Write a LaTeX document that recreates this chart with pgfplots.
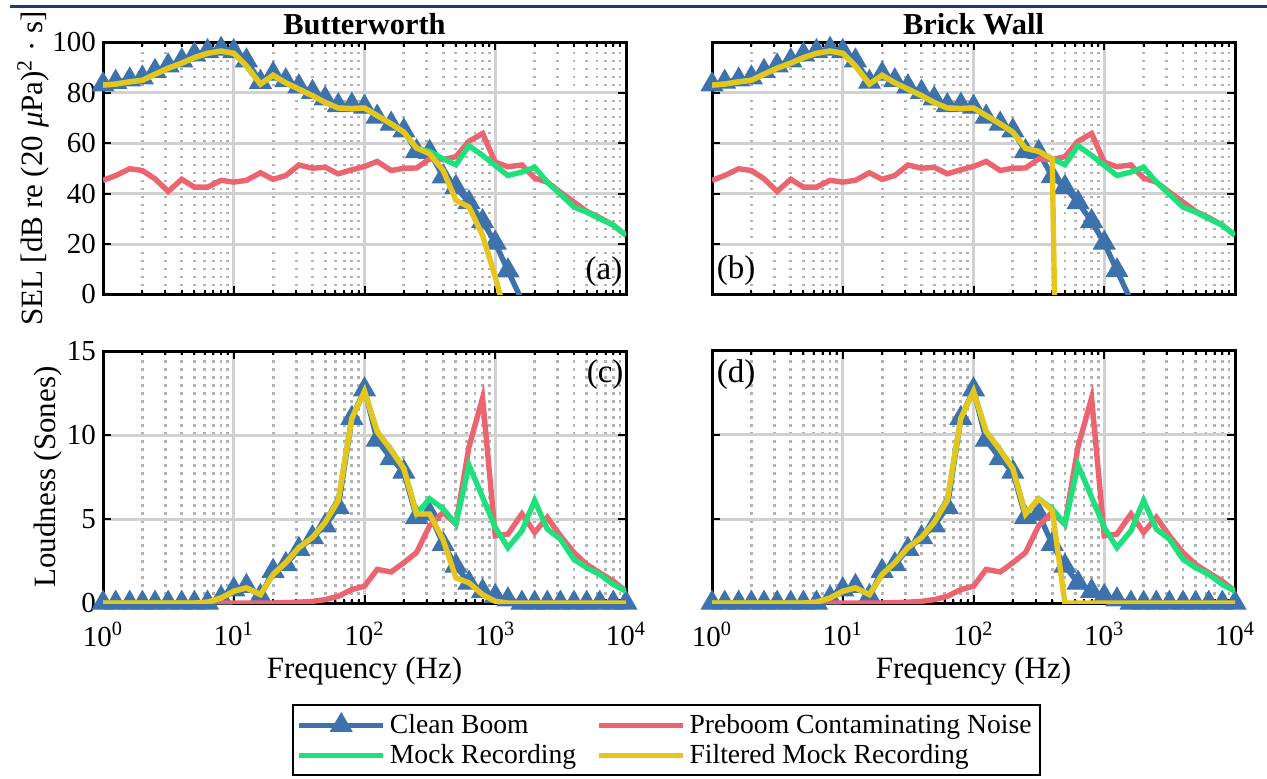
\documentclass[border=0pt]{standalone}
\usepackage{fontspec}
\setmainfont{Liberation Serif}
\usepackage{pgfplots}
\usepackage{pgfplotstable}
\pgfplotsset{compat=1.18}

\definecolor{cBoom}{HTML}{3E72AC}
\definecolor{cNoise}{HTML}{EC6470}
\definecolor{cMock}{HTML}{1EE07C}
\definecolor{cFilt}{HTML}{E6C51C}
\definecolor{navy}{HTML}{1D3C6E}

% Sound exposure level per 1/3-octave band, dB re (20 uPa)^2 s
\pgfplotstableread{
f      clean  noise  mock  filtA  filtB
1      83.3   45.3   83.1  83.1   83.1
1.25   84.3   47.2   83.5  83.5   83.5
1.6    85.2   49.9   84.4  84.4   84.4
2      86.0   49.2   85.0  85.0   85.0
2.5    88.6   45.9   87.4  87.4   87.4
3.15   90.8   40.9   89.8  89.8   89.8
4      92.8   45.7   91.8  91.8   91.8
5      95.2   42.6   94.0  94.0   94.0
6.3    96.5   42.6   95.7  95.7   95.7
8      97.4   45.3   96.6  96.6   96.6
10     96.5   44.6   95.7  95.7   95.7
12.5   92.8   45.3   90.7  90.7   90.7
16     84.3   48.3   83.5  83.5   83.5
20     87.5   45.7   87.0  87.0   87.0
25     84.9   47.2   84.0  84.0   84.0
31.5   82.5   51.4   81.5  81.5   81.5
40     80.3   50.1   78.9  78.9   78.9
50     77.7   50.5   76.2  76.2   76.2
63     75.0   47.9   74.0  74.0   74.0
80     75.2   49.5   73.8  73.8   73.8
100    74.4   50.8   74.0  74.0   74.0
125    70.5   52.8   71.0  71.0   71.0
160    67.7   49.2   67.7  67.7   67.7
200    65.0   50.1   64.4  64.4   64.4
250    56.8   50.2   58.0  58.2   58.0
315    56.5   53.8   56.8  55.8   56.8
400    46.8   53.5   53.8  49.2   53.8
500    42.6   54.7   51.5  37.4   -250
630    36.5   60.8   59.0  34.7   nan
800    29.0   63.9   55.2  23.5   nan
1000   20.5   52.5   51.2  7.0    nan
1250   9.5    50.7   47.2  -12    nan
1600   -2.5   51.4   48.6  nan    nan
2000   nan    46.2   50.5  nan    nan
2500   nan    44.6   44.6  nan    nan
3150   nan    40.6   39.8  nan    nan
4000   nan    36.7   34.7  nan    nan
5000   nan    33.0   32.7  nan    nan
6300   nan    30.5   30.1  nan    nan
8000   nan    27.5   27.5  nan    nan
10000  nan    23.5   23.5  nan    nan
}\seltab

% Loudness per 1/3-octave band, sones
\pgfplotstableread{
f      clean  noise  mock  filtC  filtD
1      0      0      0     0      0
1.25   0      0      0     0      0
1.6    0      0      0     0      0
2      0      0      0     0      0
2.5    0      0      0     0      0
3.15   0      0      0     0      0
4      0      0      0     0      0
5      0      0      0     0      0
6.3    0      0      0.05  0.05   0.05
8      0.3    0      0.3   0.3    0.3
10     0.8    0      0.7   0.7    0.7
12.5   1.0    0      0.9   0.9    0.9
16     0.4    0      0.5   0.5    0.5
20     1.9    0      1.7   1.7    1.7
25     2.3    0.02   2.4   2.4    2.4
31.5   3.2    0.05   3.3   3.3    3.3
40     3.9    0.1    3.9   3.9    3.9
50     4.6    0.2    4.8   4.8    4.8
63     5.7    0.4    6.1   6.1    6.1
80     11.0   0.8    11.0  11.0   11.0
100    12.7   1.0    12.6  12.6   12.6
125    9.7    2.0    10.2  10.2   10.2
160    8.6    1.85   9.1   9.1    9.1
200    7.8    2.4    8.0   8.0    8.0
250    5.1    3.0    5.3   5.3    5.3
315    5.3    4.6    6.2   5.3    6.2
400    3.5    5.4    5.6   3.75   5.5
500    2.2    4.7    4.7   1.5    0
630    1.2    9.3    8.2   1.2    0
800    0.7    12.2   6.3   0.5    0
1000   0.4    4.0    4.5   0.1    0
1250   0.2    4.1    3.3   0      0
1600   0      5.3    4.3   0      0
2000   0      4.2    6.1   0      0
2500   0      5.1    4.4   0      0
3150   0      4.0    3.8   0      0
4000   0      3.0    2.6   0      0
5000   0      2.3    2.1   0      0
6300   0      1.8    1.7   0      0
8000   0      1.3    1.1   0      0
10000  0      0.7    0.7   0      0
}\loudtab

\pgfplotsset{
  sbpanel/.style={
    scale only axis, width=261.5pt, height=126pt,
    xmin=1, xmax=10000,
    clip mode=individual,
    xtick={1,10,100,1000,10000},
    minor xtick={2,3,4,5,6,7,8,9,20,30,40,50,60,70,80,90,200,300,400,500,600,700,800,900,2000,3000,4000,5000,6000,7000,8000,9000},
    axis line style={line width=1.5pt},
    tick style={black, line width=1pt},
    major tick length=4pt, minor tick length=2.2pt,
    tick align=inside,
    xmajorgrids, xminorgrids, ymajorgrids,
    major grid style={black!18, line width=1.5pt},
    minor grid style={black!30, line width=1.4pt, dash pattern=on 1.4pt off 2.6pt},
    /pgf/number format/assume math mode=true,
    tick label style={font=\fontsize{14.5}{17}\selectfont},
    label style={font=\fontsize{15.5}{19}\selectfont},
    title style={font=\bfseries\fontsize{15.2}{18}\selectfont,
      anchor=center, yshift=3pt},
    legend image code/.code={\draw[mark repeat=2,mark phase=2,##1] plot coordinates {(0pt,0pt) (21pt,0pt) (42pt,0pt)};},
  },
  sbboom/.style={color=cBoom, line width=2.7pt, mark=triangle*, mark size=6.2pt, mark options={solid, line width=0.5pt}},
  sbnoise/.style={color=cNoise, line width=2.7pt, no markers},
  sbmock/.style={color=cMock, line width=2.7pt, no markers},
  sbfilt/.style={color=cFilt, line width=2.7pt, no markers},
}

\begin{document}
\begin{tikzpicture}
\useasboundingbox (0,0) rectangle (633.5pt,-389.5pt);
\fill[navy] (5pt,-2.5pt) rectangle (633.5pt,-4pt);

% (a) Butterworth, SEL
\begin{semilogxaxis}[sbpanel, at={(51.5pt,-147.25pt)}, anchor=south west,
  ymin=0, ymax=100, ytick={0,20,...,100}, xticklabels={},
  title={Butterworth},
  ylabel={SEL [dB re (20 \textit{μ}Pa)\textsuperscript{2} · s]},
  ylabel style={at={(axis description cs:-0.134,0.5)}, anchor=center}]
\addplot[sbboom] table[x=f,y=clean]{\seltab};
\addplot[sbnoise] table[x=f,y=noise]{\seltab};
\addplot[sbmock] table[x=f,y=mock]{\seltab};
\addplot[sbfilt] table[x=f,y=filtA]{\seltab};
\node[font=\fontsize{16.5}{19}\selectfont, anchor=center] at (rel axis cs:0.958,0.09) {(a)};
\end{semilogxaxis}

% (b) Brick wall, SEL
\begin{semilogxaxis}[sbpanel, at={(356pt,-147.25pt)}, anchor=south west,
  ymin=0, ymax=100, ytick={0,20,...,100}, xticklabels={}, yticklabels={},
  title={Brick Wall}]
\addplot[sbboom] table[x=f,y=clean]{\seltab};
\addplot[sbnoise] table[x=f,y=noise]{\seltab};
\addplot[sbmock] table[x=f,y=mock]{\seltab};
\addplot[sbfilt] table[x=f,y=filtB]{\seltab};
\node[font=\fontsize{16.5}{19}\selectfont, anchor=center] at (rel axis cs:0.046,0.095) {(b)};
\end{semilogxaxis}

% (c) Butterworth, loudness
\begin{semilogxaxis}[sbpanel, at={(51.5pt,-301.5pt)}, anchor=south west,
  ymin=0, ymax=15, ytick={0,5,10,15},
  xticklabels={10\textsuperscript{0},10\textsuperscript{1},10\textsuperscript{2},10\textsuperscript{3},10\textsuperscript{4}},
  xticklabel style={yshift=-6pt},
  xlabel={Frequency (Hz)},
  xlabel style={at={(axis description cs:0.5,-0.27)}, anchor=center},
  ylabel={Loudness (Sones)},
  ylabel style={at={(axis description cs:-0.105,0.5)}, anchor=center},
  legend columns=2, legend cell align=left,
  legend style={at={(axis description cs:1.0765,-0.545)}, anchor=center,
    draw=black, line width=1pt, font=\fontsize{13.8}{17.5}\selectfont,
    inner xsep=2pt, inner ysep=2.5pt,
    /tikz/every even column/.append style={column sep=8pt}}]
\addplot[sbboom] table[x=f,y=clean]{\loudtab};
\addlegendentry{Clean Boom}
\addplot[sbnoise] table[x=f,y=noise]{\loudtab};
\addlegendentry{Preboom Contaminating Noise}
\addplot[sbmock] table[x=f,y=mock]{\loudtab};
\addlegendentry{Mock Recording}
\addplot[sbfilt] table[x=f,y=filtC]{\loudtab};
\addlegendentry{Filtered Mock Recording}
\node[font=\fontsize{16.5}{19}\selectfont, anchor=center] at (rel axis cs:0.96,0.905) {(c)};
\end{semilogxaxis}

% (d) Brick wall, loudness
\begin{semilogxaxis}[sbpanel, at={(356pt,-301.5pt)}, anchor=south west,
  ymin=0, ymax=15, ytick={0,5,10,15}, yticklabels={},
  xticklabels={10\textsuperscript{0},10\textsuperscript{1},10\textsuperscript{2},10\textsuperscript{3},10\textsuperscript{4}},
  xticklabel style={yshift=-6pt},
  xlabel={Frequency (Hz)},
  xlabel style={at={(axis description cs:0.5,-0.27)}, anchor=center}]
\addplot[sbboom] table[x=f,y=clean]{\loudtab};
\addplot[sbnoise] table[x=f,y=noise]{\loudtab};
\addplot[sbmock] table[x=f,y=mock]{\loudtab};
\addplot[sbfilt] table[x=f,y=filtD]{\loudtab};
\node[font=\fontsize{16.5}{19}\selectfont, anchor=center] at (rel axis cs:0.046,0.905) {(d)};
\end{semilogxaxis}
\end{tikzpicture}
\end{document}
